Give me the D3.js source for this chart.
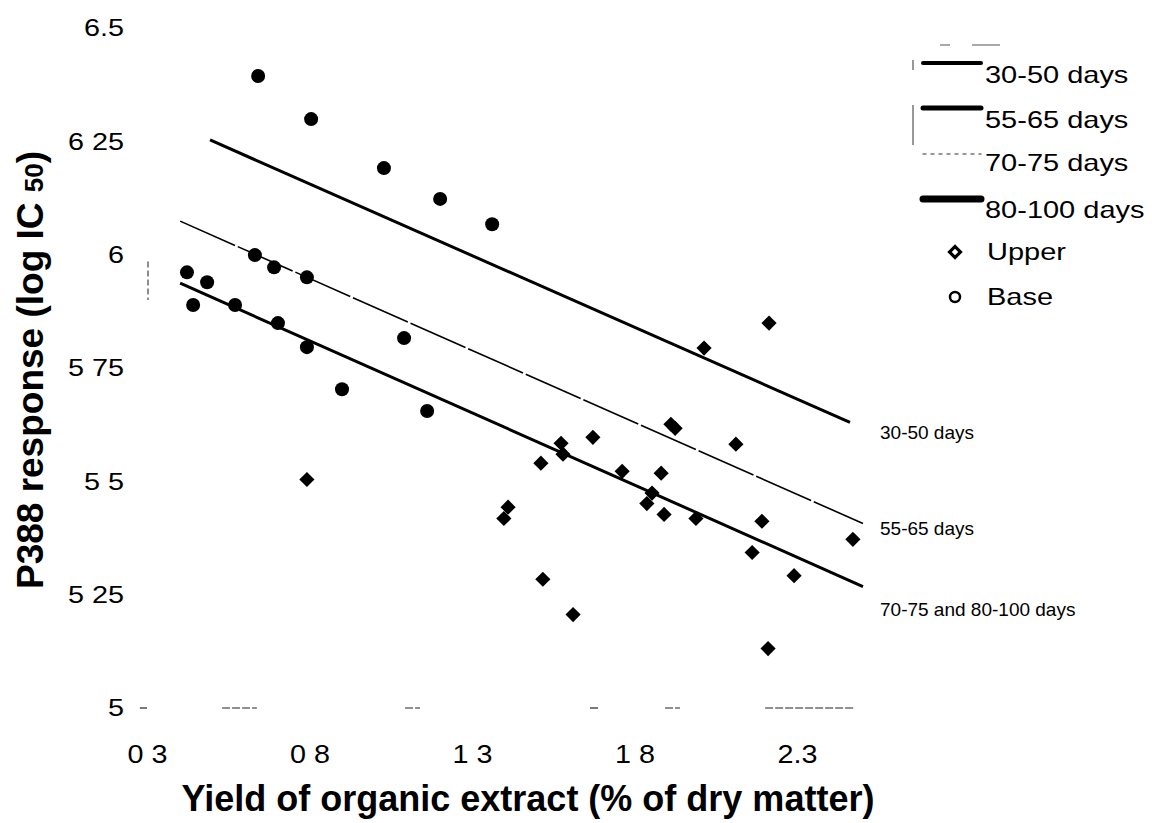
<!DOCTYPE html>
<html>
<head>
<meta charset="utf-8">
<script src="https://cdn.jsdelivr.net/npm/d3@7"></script>
<style>
  body { margin: 0; background: #fff; }
  text { font-family: "Liberation Sans", Arial, sans-serif; fill: #000; }
</style>
</head>
<body>
<svg class="plot" width="1152" height="823"></svg>
<script>

// base samples (filled circles)
var baseX = [0.642, 0.805, 1.029, 1.202, 1.362, 0.632, 0.691, 0.792, 0.423, 0.485,
             0.442, 0.571, 0.703, 0.792, 0.900, 1.091, 1.162];
var baseY = [6.394, 6.299, 6.191, 6.123, 6.067, 5.999, 5.972, 5.950, 5.961, 5.939,
             5.889, 5.889, 5.849, 5.796, 5.703, 5.816, 5.655];

// upper samples (filled diamonds)
var upperX = [2.214, 2.014, 1.912, 1.925, 2.112, 1.672, 1.574, 1.580, 1.512, 1.762,
              1.882, 1.854, 1.838, 1.891, 1.989, 2.192, 2.472, 2.162, 2.291, 1.411,
              1.398, 1.518, 1.611, 2.211, 0.792];
var upperY = [5.849, 5.794, 5.626, 5.617, 5.582, 5.597, 5.584, 5.560, 5.540, 5.522,
              5.518, 5.474, 5.451, 5.427, 5.418, 5.412, 5.372, 5.343, 5.292, 5.443,
              5.418, 5.284, 5.206, 5.131, 5.504];

// fitted lines, start and end
var lineNames = ["30-50 days", "55-65 days", "70-75 and 80-100 days"];
var lineX0 = [0.494, 0.402, 0.402];
var lineY0 = [6.253, 6.074, 5.937];
var lineX1 = [2.463, 2.503, 2.503];
var lineY1 = [5.630, 5.407, 5.268];

var legendNames = ["30-50 days", "55-65 days", "70-75 days", "80-100 days", "Upper", "Base"];

var xTicks = [0.3, 0.8, 1.3, 1.8, 2.3];
var xTickLabels = ["0 3", "0 8", "1 3", "1 8", "2.3"];
var yTicks = [5, 5.25, 5.5, 5.75, 6, 6.25, 6.5];
var yTickLabels = ["5", "5 25", "5 5", "5 75", "6", "6 25", "6.5"];

// broken bits of the baseline left in the scan
var baseSegX0 = [0.278, 0.531, 1.094, 1.663, 1.894, 2.202];
var baseSegX1 = [0.300, 0.638, 1.140, 1.688, 1.940, 2.478];

var svg = d3.select(".plot");

var x = d3.scaleLinear().domain([0.3, 2.3]).range([147, 797]);
var y = d3.scaleLinear().domain([5, 6.5]).range([708, 28]);

// y axis labels
svg.append("g")
    .attr("transform", "translate(124,0)")
    .call(d3.axisLeft(y).tickValues(yTicks)
        .tickFormat(function(d, i) { return yTickLabels[i]; })
        .tickSize(0).tickPadding(0))
    .call(function(g) { g.select(".domain").remove(); })
    .attr("font-family", null).attr("font-size", null)
    .selectAll("text")
    .attr("font-size", 24)
    .attr("transform", "scale(1.2,1)");

// x axis labels
svg.append("g")
    .attr("transform", "translate(0,745)")
    .call(d3.axisBottom(x).tickValues(xTicks)
        .tickFormat(function(d, i) { return xTickLabels[i]; })
        .tickSize(0).tickPadding(0))
    .call(function(g) { g.select(".domain").remove(); })
    .attr("font-family", null).attr("font-size", null)
    .selectAll("text")
    .attr("font-size", 25)
    .attr("transform", "scale(1.15,1)");

// baseline fragments
svg.append("g").selectAll("line")
    .data(baseSegX0)
    .enter().append("line")
    .attr("x1", function(d) { return x(d); })
    .attr("x2", function(d, i) { return x(baseSegX1[i]); })
    .attr("y1", y(5)).attr("y2", y(5))
    .attr("stroke", "#222").attr("stroke-width", 1.2)
    .attr("stroke-dasharray", "8,2");

// scan leftovers: bit of the y axis, marks above the legend
svg.append("line")
    .attr("x1", 148).attr("x2", 148).attr("y1", y(5.985)).attr("y2", y(5.9))
    .attr("stroke", "#444").attr("stroke-width", 1.2).attr("stroke-dasharray", "6,3");
svg.append("path")
    .attr("d", "M940,45H950M972,45H1000M913,60V70M913,105V145")
    .attr("stroke", "#555").attr("stroke-width", 1.2).attr("fill", "none");

// fitted lines
var lineW = [3, 1.6, 3];
svg.append("g").selectAll("line")
    .data(lineNames)
    .enter().append("line")
    .attr("x1", function(d, i) { return x(lineX0[i]); })
    .attr("y1", function(d, i) { return y(lineY0[i]); })
    .attr("x2", function(d, i) { return x(lineX1[i]); })
    .attr("y2", function(d, i) { return y(lineY1[i]); })
    .attr("stroke", "#000")
    .attr("stroke-width", function(d, i) { return lineW[i]; })
    .attr("stroke-dasharray", function(d, i) { return i == 1 ? "60,3" : null; });

// line labels at right
var labelY = [432, 528, 609];
svg.append("g").selectAll("text")
    .data(lineNames)
    .enter().append("text")
    .attr("x", 880)
    .attr("y", function(d, i) { return labelY[i]; })
    .attr("dy", "0.35em")
    .attr("font-size", 19)
    .text(function(d) { return d; });

// points
svg.append("g").selectAll("circle")
    .data(baseX)
    .enter().append("circle")
    .attr("cx", function(d) { return x(d); })
    .attr("cy", function(d, i) { return y(baseY[i]); })
    .attr("r", 7)
    .attr("fill", "#000");

svg.append("g").selectAll("path")
    .data(upperX)
    .enter().append("path")
    .attr("d", d3.symbol().type(d3.symbolSquare).size(115))
    .attr("transform", function(d, i) {
        return "translate(" + x(d) + "," + y(upperY[i]) + ") rotate(45)";
    })
    .attr("fill", "#000");

// legend
var legend = svg.append("g");
var legLineY = [63, 108, 154, 199];
var legLineW = [4, 5, 1.5, 7];
var legTextY = [75, 120, 163, 210, 252, 297];

legend.selectAll("line")
    .data(legLineY)
    .enter().append("line")
    .attr("x1", 923).attr("x2", 981)
    .attr("y1", function(d) { return d; })
    .attr("y2", function(d) { return d; })
    .attr("stroke", function(d, i) { return i == 2 ? "#777" : "#000"; })
    .attr("stroke-width", function(d, i) { return legLineW[i]; })
    .attr("stroke-linecap", "round")
    .attr("stroke-dasharray", function(d, i) { return i == 2 ? "3,5" : null; });

legend.append("path")
    .attr("d", d3.symbol().type(d3.symbolSquare).size(60))
    .attr("transform", "translate(955,252) rotate(45)")
    .attr("fill", "none").attr("stroke", "#000").attr("stroke-width", 3.2);

legend.append("circle")
    .attr("cx", 955).attr("cy", 297).attr("r", 5)
    .attr("fill", "none").attr("stroke", "#000").attr("stroke-width", 2.5);

legend.selectAll("text")
    .data(legendNames)
    .enter().append("text")
    .attr("transform", function(d, i) {
        return "translate(" + (i < 4 ? 985 : 987) + "," + legTextY[i] + ") scale(1.26,1)";
    })
    .attr("dy", "0.35em")
    .attr("font-size", 23)
    .text(function(d) { return d; });

// axis titles
svg.append("text")
    .attr("x", 528).attr("y", 811)
    .attr("text-anchor", "middle")
    .attr("font-size", 36).attr("font-weight", "bold")
    .text("Yield of organic extract (% of dry matter)");

var yt = svg.append("text")
    .attr("transform", "translate(43,370) rotate(-90)")
    .attr("text-anchor", "middle")
    .attr("font-size", 37).attr("font-weight", "bold");
yt.append("tspan").text("P388 response (log IC ");
yt.append("tspan").attr("font-size", 26).text("50");
yt.append("tspan").text(")");

</script>
</body>
</html>
